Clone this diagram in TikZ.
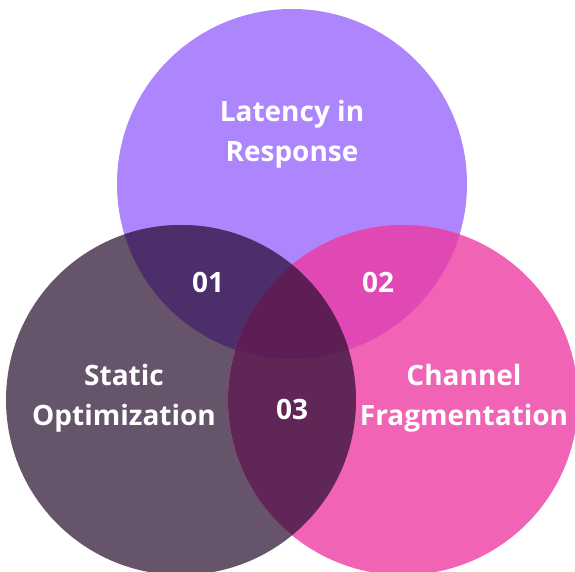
\documentclass[tikz,border=0pt]{standalone}
\usepackage{fontspec}
\setmainfont{Open Sans}
\usepackage{xcolor}
\definecolor{topviolet}{HTML}{AD85FC}
\definecolor{leftplum}{HTML}{66546B}
\definecolor{rightpink}{HTML}{F163B4}
\definecolor{topleft}{HTML}{4C2F6A}
\definecolor{topright}{HTML}{E048B4}
\definecolor{leftright}{HTML}{602656}
\definecolor{allthree}{HTML}{5C1E54}

\begin{document}
\begin{tikzpicture}[x=1pt,y=1pt,
  vennlabel/.style={text=white,font=\bfseries\fontsize{28}{40}\selectfont,align=center}]

  \useasboundingbox (0,0) rectangle (575,572);
  \clip (0,0) rectangle (575,572);

  \fill[topviolet] (292,388) circle (175);
  \fill[leftplum] (181,172) circle (175);
  \fill[rightpink] (403,172) circle (175);

  \begin{scope}
    \clip (292,388) circle (175);
    \fill[topleft] (181,172) circle (175);
    \fill[topright] (403,172) circle (175);
  \end{scope}
  \begin{scope}
    \clip (181,172) circle (175);
    \fill[leftright] (403,172) circle (175);
  \end{scope}
  \begin{scope}
    \clip (292,388) circle (175);
    \clip (181,172) circle (175);
    \fill[allthree] (403,172) circle (175);
  \end{scope}

  \node[vennlabel] (latency) at (292,438) {Latency in\\Response};
  \node[vennlabel] (static) at (124,174) {Static\\Optimization};
  \node[vennlabel] (channel) at (464,174) {Channel\\Fragmentation};
  \node[vennlabel] (one) at (208,290) {01};
  \node[vennlabel] (two) at (378,290) {02};
  \node[vennlabel] (three) at (292,163) {03};
\end{tikzpicture}
\end{document}
